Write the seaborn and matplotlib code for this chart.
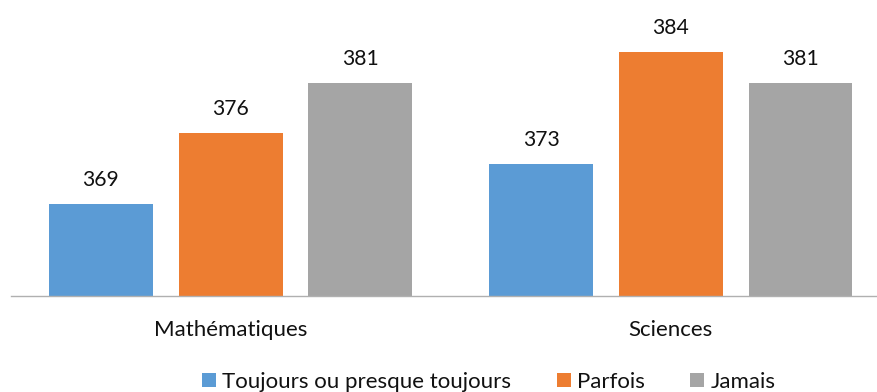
import matplotlib
matplotlib.use("Agg")
import matplotlib.pyplot as plt
import seaborn as sns
import pandas as pd

# Scores by subject and frequency
subjects = ["Mathématiques", "Sciences"]
frequencies = ["Toujours ou presque toujours", "Parfois", "Jamais"]
math_scores = [369, 376, 381]
science_scores = [373, 384, 381]
colors = ["#5B9BD5", "#ED7D31", "#A5A5A5"]

rows = []
for subj, scores in zip(subjects, [math_scores, science_scores]):
    for freq, val in zip(frequencies, scores):
        rows.append({"subject": subj, "frequency": freq, "score": val})
df = pd.DataFrame(rows)

plt.rcParams["font.family"] = ["Lato", "DejaVu Sans"]
plt.rcParams["font.size"] = 16

fig = plt.figure(figsize=(8.77, 3.92), dpi=100)
ax = fig.add_axes([10.5 / 877, 96.5 / 392, 880.5 / 877, 284 / 392])

sns.barplot(
    data=df, x="subject", y="score", hue="frequency",
    order=subjects, hue_order=frequencies, palette=colors, saturation=1,
    width=0.884, gap=0.2, linewidth=0, ax=ax, legend=True,
)

ax.set_ylim(360, 388)
ax.set_xlim(-0.5, 1.5)

for cont in ax.containers:
    ax.bar_label(cont, fmt="%d", padding=10, fontsize=15.2, color="#111111")

for side in ["top", "right", "left"]:
    ax.spines[side].set_visible(False)
ax.spines["bottom"].set_color("#B0B0B0")
ax.spines["bottom"].set_linewidth(1.0)
ax.set_yticks([])
ax.set_xlabel("")
ax.set_ylabel("")
ax.tick_params(axis="x", length=0, pad=18, labelsize=16, labelcolor="#111111")

handles, labels = ax.get_legend_handles_labels()
ax.get_legend().remove()
fig.legend(
    handles, labels, loc="center", bbox_to_anchor=(488.5 / 877, 1 - 381.7 / 392),
    ncol=3, frameon=False, fontsize=16, handlelength=0.63, handleheight=0.63,
    handletextpad=0.27, columnspacing=2.07, borderaxespad=0, borderpad=0,
    labelcolor="#111111",
)

fig.savefig("out.png", dpi=100)
